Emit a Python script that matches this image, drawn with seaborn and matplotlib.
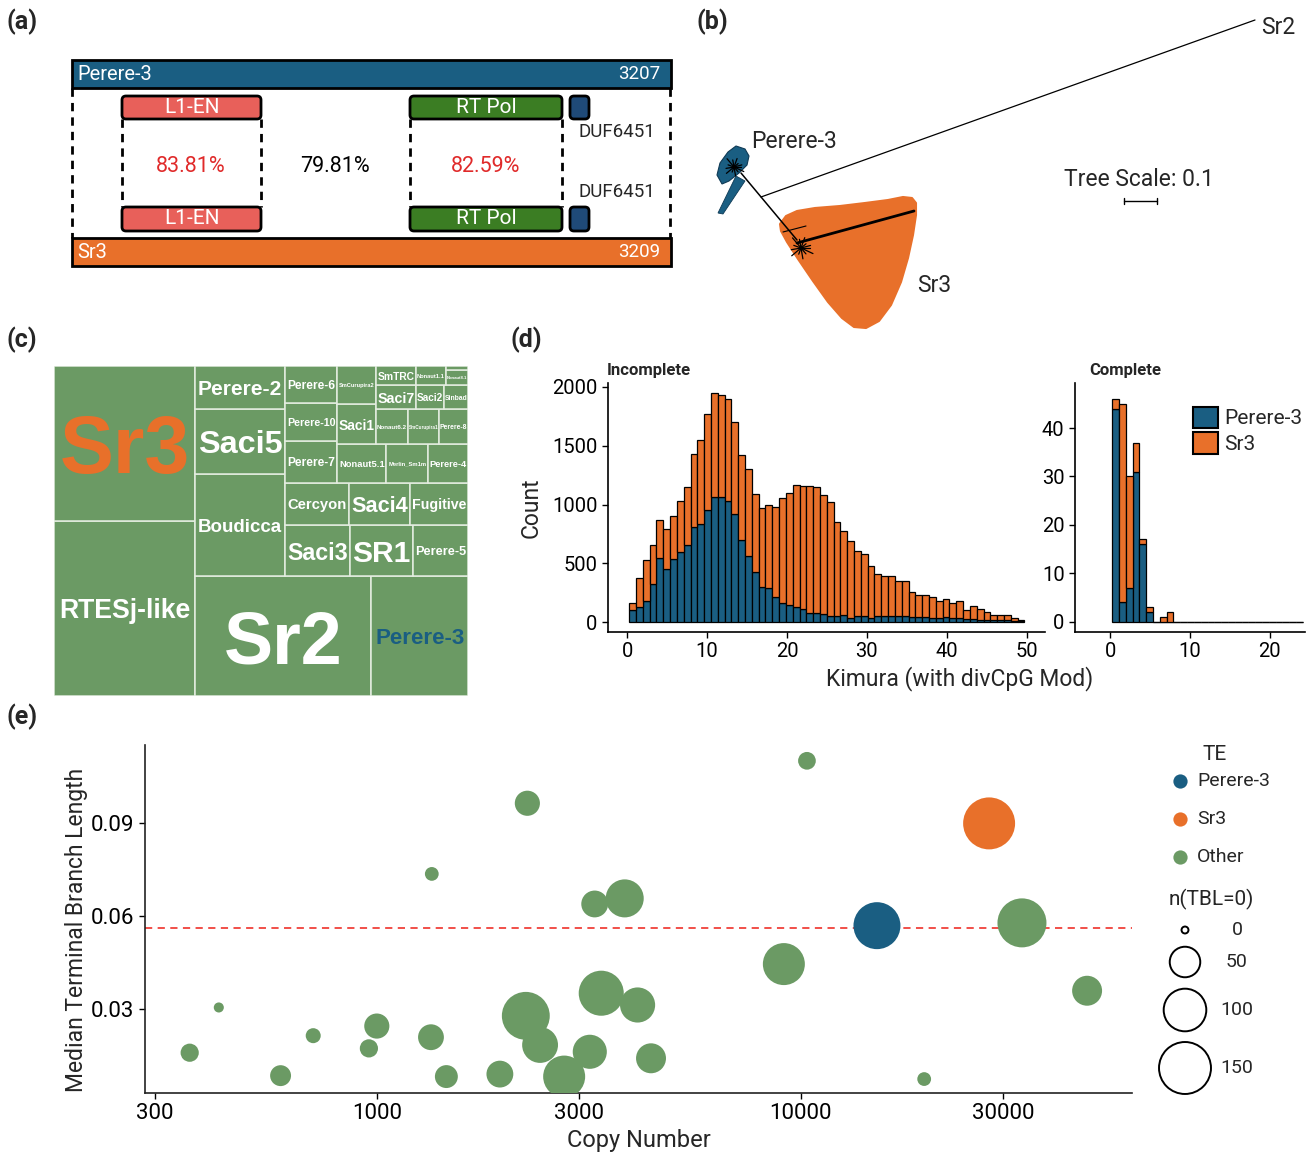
import numpy as np
import matplotlib.pyplot as plt
from matplotlib.patches import Rectangle, FancyBboxPatch, Polygon, Patch
import pandas as pd
import seaborn as sns

sns.set_style('ticks')
plt.rcParams['font.family'] = ['Roboto', 'DejaVu Sans']

BLUE = '#1a5e82'
ORANGE = '#e8702a'
GREEN = '#6b9a64'
PCT_RED = '#e02a2a'

# ---- (a) domain architecture ----
arch_names = ['Perere-3', 'Sr3']
arch_lengths = [3207, 3209]
domain_names = ['L1-EN', 'RT Pol', 'DUF6451']
domain_colors = ['#e8605a', '#3b7d23', '#1f4a78']
domain_identity = ['83.81%', '82.59%']
overall_identity = '79.81%'

# ---- (c) treemap (copy number per family) ----
tm_names = ['RTESj-like', 'Sr3', 'Sr2', 'Perere-3', 'Boudicca', 'Saci5', 'Perere-2',
            'Saci3', 'SR1', 'Perere-5', 'Cercyon', 'Saci4', 'Fugitive', 'Perere-7',
            'Perere-10', 'Perere-6', 'Nonaut5.1', 'Merlin_Sm1m', 'Perere-4', 'Saci1',
            'SmCurupira2', 'Nonaut6.2', 'SmCurupira1', 'Perere-8', 'Saci7', 'SmTRC',
            'Saci2', 'Sinbad', 'Nonaut1.1', 'Nonaut8.1', '']
tm_sizes = [222075, 196272, 190270, 104110, 83232, 52768, 35360, 29835, 28764, 25245,
            24257, 23114, 22225, 19500, 17628, 17472, 17052, 14500, 13920, 13685,
            13225, 10088, 9672, 9048, 8760, 6840, 6132, 5329, 5130, 3015, 804]

# ---- (d) Kimura divergence histograms ----
BIN0, BINW = 0.25, 0.853
inc_perere3 = [99, 128, 179, 327, 548, 455, 540, 594, 653, 811, 834, 953, 1066, 1061, 1032,
               916, 702, 560, 426, 298, 287, 213, 162, 142, 128, 114, 77, 77, 71, 48, 51, 57,
               37, 48, 48, 34, 51, 48, 51, 48, 48, 43, 43, 43, 37, 37, 43, 37, 37, 23, 28,
               20, 20, 14, 14, 14, 9, 9]
inc_sr3 = [63, 247, 346, 332, 318, 338, 366, 436, 493, 619, 715, 817, 880, 874, 869, 786,
           722, 742, 662, 668, 710, 767, 893, 955, 1037, 1042, 1079, 1068, 1014, 975, 801,
           716, 653, 554, 529, 443, 361, 341, 338, 299, 299, 213, 190, 190, 176, 142, 156,
           128, 139, 76, 106, 91, 65, 48, 43, 43, 22, 11]
comp_perere3 = [44, 4, 7, 31, 16, 2, 0, 0, 0] + [0] * 19
comp_sr3 = [2, 41, 23, 6, 1, 1, 0, 1, 2] + [0] * 19

# ---- (e) copy number vs median terminal branch length ----
te_copy = [362, 424, 593, 708, 958, 1000, 1348, 1342, 1459, 1951, 2265, 2246, 2427, 2766,
           3179, 3265, 3843, 3383, 4121, 4433, 10338, 27800, 9120, 15120, 33230, 47330, 19540]
te_tbl = [0.0159, 0.0305, 0.0085, 0.0214, 0.0173, 0.0245, 0.0736, 0.0209, 0.0082, 0.0090,
          0.0964, 0.0278, 0.0184, 0.0082, 0.0162, 0.0639, 0.0657, 0.0351, 0.0313, 0.0141,
          0.1101, 0.0899, 0.0445, 0.0569, 0.0578, 0.0359, 0.0074]
te_n0 = [16, 3, 22, 10, 16, 33, 8, 35, 27, 38, 33, 127, 70, 97, 63, 38, 79, 112, 67, 48,
         15, 162, 97, 122, 133, 48, 8]
te_class = ['Other'] * 21 + ['Sr3', 'Other', 'Perere-3', 'Other', 'Other', 'Other']
te_levels = ['Perere-3', 'Sr3', 'Other']
size_vals = [0, 50, 100, 150]
tbl_line = 0.0561

W, H = 1312, 1152
fig = plt.figure(figsize=(13.12, 11.52), dpi=100)


def px_axes(l, t, r, b):
    return fig.add_axes([l / W, 1 - b / H, (r - l) / W, (b - t) / H])


def area_for(n):
    # marker area (pt^2) for n(TBL=0)
    return 25 + n * 1375 / 150


ov = fig.add_axes([0, 0, 1, 1])
ov.set_xlim(0, W)
ov.set_ylim(H, 0)
ov.axis('off')

for lab, x, y in [('(a)', 7, 22), ('(b)', 697, 22), ('(c)', 7, 340), ('(d)', 511, 340), ('(e)', 7, 717)]:
    ov.text(x, y, lab, fontsize=18, fontweight='bold', va='center', ha='left')

# ---------------- (a) ----------------
bar_rows = [(60, 88), (238, 266)]
for (y0, y1), name, length, col in zip(bar_rows, arch_names, arch_lengths, [BLUE, ORANGE]):
    ov.add_patch(Rectangle((72, y0), 599, y1 - y0, fc=col, ec='black', lw=2))
    ov.text(77, (y0 + y1) / 2, name, color='white', fontsize=14.5, va='center', ha='left')
    ov.text(660, (y0 + y1) / 2, str(length), color='white', fontsize=13.5, va='center', ha='right')

dash = (0, (3, 2.2))
for x in [72, 670]:
    ov.plot([x, x], [88, 238], color='black', lw=2, ls=dash)

dom_x = [(122, 261), (410, 562), (570, 589)]
dom_rows = [(96, 119), (207, 231)]
for (y0, y1) in dom_rows:
    for (x0, x1), name, col in zip(dom_x, domain_names, domain_colors):
        ov.add_patch(FancyBboxPatch((x0, y0), x1 - x0, y1 - y0,
                                    boxstyle='round,pad=0,rounding_size=4',
                                    fc=col, ec='black', lw=2))
        if name != 'DUF6451':
            ov.text((x0 + x1) / 2, (y0 + y1) / 2, name, color='white', fontsize=15,
                    ha='center', va='center')
for (x0, x1) in dom_x[:2]:
    for x in [x0, x1]:
        ov.plot([x, x], [119, 207], color='black', lw=2, ls=dash)
ov.text(578, 132, 'DUF6451', fontsize=13.5, ha='left', va='center')
ov.text(578, 192, 'DUF6451', fontsize=13.5, ha='left', va='center')
ov.text(191, 166, domain_identity[0], color=PCT_RED, fontsize=15.5, ha='center', va='center')
ov.text(335, 166, overall_identity, color='black', fontsize=15.5, ha='center', va='center')
ov.text(486, 166, domain_identity[1], color=PCT_RED, fontsize=15.5, ha='center', va='center')

# ---------------- (b) ----------------
sr3_blob = [(780, 224), (786, 216), (797, 211), (815, 208), (840, 206), (865, 203), (888, 200),
            (903, 197), (912, 198), (916, 203), (916, 215), (913, 235), (908, 258), (901, 282),
            (891, 305), (879, 321), (866, 328), (854, 327), (842, 318), (828, 302), (813, 281),
            (798, 259), (787, 242), (781, 231)]
p3_blob = [(736, 146), (745, 149), (749, 156), (747, 165), (739, 173), (729, 181),
           (722, 184), (717, 175), (720, 163), (728, 152)]
p3_tail = [(736, 176), (745, 181), (723, 214), (718, 213)]
ov.plot([761, 1255], [197, 20], color='black', lw=0.9)
ov.add_patch(Polygon(sr3_blob, closed=True, fc=ORANGE, ec=ORANGE, lw=1.5, joinstyle='round'))
ov.add_patch(Polygon(p3_blob, closed=True, fc=BLUE, ec='#0f3a55', lw=0.8))
ov.add_patch(Polygon(p3_tail, closed=True, fc=BLUE, ec='#0f3a55', lw=0.6))
ov.plot([741, 797], [173, 240], color='black', lw=1.1)
ov.plot([797, 914], [243, 211], color='black', lw=2.0)
ov.plot([783, 806], [232, 226], color='black', lw=0.8)
angles = np.deg2rad([0, 25, 50, 80, 110, 140, 170, 200, 230, 260, 290, 320, 345])
lengths = [8, 12, 7, 10, 6, 11, 9, 7, 12, 8, 10, 6, 9]
for cx, cy, k in [(734, 167, 0.9), (801, 248, 1.1)]:
    for a, ln in zip(angles, lengths):
        ov.plot([cx, cx + k * ln * np.cos(a)], [cy, cy + k * ln * np.sin(a)], color='black', lw=0.9)
ov.text(1261, 28, 'Sr2', fontsize=16.5, ha='left', va='center')
ov.text(751, 141, 'Perere-3', fontsize=16.5, ha='left', va='center')
ov.text(917, 286, 'Sr3', fontsize=16.5, ha='left', va='center')
ov.text(1064, 179, 'Tree Scale: 0.1', fontsize=16.5, ha='left', va='center')
ov.plot([1124, 1157], [201, 201], color='black', lw=1)
ov.plot([1124, 1124], [198, 204], color='black', lw=1)
ov.plot([1157, 1157], [198, 204], color='black', lw=1)

# ---------------- (c) treemap ----------------


def worst(row, side):
    s = sum(row)
    return max(max(side ** 2 * r / s ** 2, s ** 2 / (side ** 2 * r)) for r in row)


def squarify(values, x=0.0, y=0.0, w=1.0, h=1.0):
    total = sum(values)
    vals = [v * w * h / total for v in values]
    rects = []
    while vals:
        side = min(w, h)
        row = [vals[0]]
        i = 1
        while i < len(vals) and worst(row + [vals[i]], side) <= worst(row, side):
            row.append(vals[i])
            i += 1
        s = sum(row)
        if w >= h:
            cw = s / h
            yy = y
            for v in row:
                rects.append((x, yy, cw, v / cw))
                yy += v / cw
            x += cw
            w -= cw
        else:
            rh = s / w
            xx = x
            for v in row:
                rects.append((xx, y, v / rh, rh))
                xx += v / rh
            y += rh
            h -= rh
        vals = vals[i:]
    return rects


ax_c = px_axes(54, 366, 468, 696)
ax_c.set_xlim(0, 1)
ax_c.set_ylim(0, 1)
ax_c.axis('off')
tm_w_px, tm_h_px = 414, 330
renderer = fig.canvas.get_renderer()
for (x, y, w, h), name in zip(squarify(tm_sizes), tm_names):
    ax_c.add_patch(Rectangle((x, y), w, h, fc=GREEN, ec='#e4ede1', lw=1.1))
    if not name:
        continue
    col = ORANGE if name == 'Sr3' else (BLUE if name == 'Perere-3' else 'white')
    t = ax_c.text(x + w / 2, y + h / 2, name, color=col, fontsize=10, fontweight='bold',
                  family=['Liberation Sans', 'DejaVu Sans'], ha='center', va='center_baseline')
    bb = t.get_window_extent(renderer)
    scale = min(0.93 * w * tm_w_px / bb.width, 0.62 * h * tm_h_px / bb.height)
    t.set_fontsize(10 * scale)

# ---------------- (d) histograms ----------------
pal = {'Perere-3': BLUE, 'Sr3': ORANGE}


def stacked_hist(ax, p3, sr3):
    n = len(p3)
    edges = [BIN0 + BINW * k for k in range(n + 1)]
    mids = [(edges[k] + edges[k + 1]) / 2 for k in range(n)]
    df = pd.DataFrame({'kimura': mids + mids,
                       'count': list(p3) + list(sr3),
                       'TE': ['Perere-3'] * n + ['Sr3'] * n})
    sns.histplot(data=df, x='kimura', weights='count', hue='TE', hue_order=['Sr3', 'Perere-3'],
                 multiple='stack', bins=edges, palette=pal, edgecolor='black', linewidth=0.9,
                 alpha=1, legend=False, ax=ax)


ax_i = px_axes(608, 383, 1045, 632)
ax_k = px_axes(1075, 383, 1305, 632)
stacked_hist(ax_i, inc_perere3, inc_sr3)
stacked_hist(ax_k, comp_perere3, comp_sr3)
ax_i.set_xlim(-2.4, 52.3)
ax_i.set_ylim(-85, 2034)
ax_i.set_xticks([0, 10, 20, 30, 40, 50])
ax_i.set_yticks([0, 500, 1000, 1500, 2000])
ax_k.set_xlim(-4.4, 24.4)
ax_k.set_ylim(-2.1, 49.3)
ax_k.set_xticks([0, 10, 20])
ax_k.set_yticks([0, 10, 20, 30, 40])
for ax in (ax_i, ax_k):
    sns.despine(ax=ax)
    ax.set_xlabel('')
    ax.set_ylabel('')
    ax.tick_params(labelsize=14.5, length=4, width=1, colors='black')
    for s in ('left', 'bottom'):
        ax.spines[s].set_linewidth(1.2)
        ax.spines[s].set_color('black')
ax_i.set_ylabel('Count', fontsize=16.5, labelpad=7)
ax_i.set_title('Incomplete', loc='left', fontsize=12, fontweight='bold', pad=6, x=-0.003)
ax_k.set_title('Complete', loc='left', fontsize=12, fontweight='bold', pad=6, x=0.06)
fig.text(960 / W, 1 - 679 / H, 'Kimura (with divCpG Mod)', fontsize=16.5, ha='center', va='center')
fig.legend(handles=[Patch(fc=BLUE, ec='black', lw=1.5), Patch(fc=ORANGE, ec='black', lw=1.5)],
           labels=['Perere-3', 'Sr3'], loc='upper left', bbox_to_anchor=(1178 / W, 1 - 392 / H),
           frameon=False, fontsize=15, handlelength=1.2, handleheight=1.2,
           labelspacing=0.2, handletextpad=0.3, borderpad=0.2)

# ---------------- (e) scatter ----------------
ax_e = px_axes(145, 745, 1132, 1093)
df_e = pd.DataFrame({'copy': te_copy, 'tbl': te_tbl, 'n0': te_n0, 'TE': te_class})
te_pal = {'Perere-3': BLUE, 'Sr3': ORANGE, 'Other': GREEN}
sns.scatterplot(data=df_e, x='copy', y='tbl', hue='TE', size='n0', sizes=(area_for(0), area_for(150)),
                size_norm=(0, 150), palette=te_pal, linewidth=0, alpha=1, legend=False,
                ax=ax_e, zorder=3)
ax_e.axhline(tbl_line, color='#f0413a', ls=(0, (4, 3)), lw=1.3, zorder=2)
ax_e.set_xscale('log')
ax_e.set_xlim(284, 60400)
ax_e.set_ylim(0.0029, 0.1152)
ax_e.set_xticks([300, 1000, 3000, 10000, 30000])
ax_e.set_xticklabels(['300', '1000', '3000', '10000', '30000'])
ax_e.minorticks_off()
ax_e.set_yticks([0.03, 0.06, 0.09])
ax_e.set_yticklabels(['0.03', '0.06', '0.09'])
sns.despine(ax=ax_e)
ax_e.tick_params(labelsize=16, length=4, width=1, colors='black')
for s in ('left', 'bottom'):
    ax_e.spines[s].set_linewidth(1.2)
    ax_e.spines[s].set_color('#222222')
ax_e.set_xlabel('Copy Number', fontsize=17, labelpad=3)
ax_e.set_ylabel('Median Terminal Branch Length', fontsize=16.5)
ax_e.yaxis.set_label_coords(-0.058, 0.47)

# legend of (e), drawn as keys in the overlay
ov.text(1215, 754, 'TE', fontsize=15, ha='center', va='center')
for yk, k in zip([781, 819, 857], te_levels):
    ov.scatter([1180], [yk], s=105, color=te_pal[k], linewidths=0)
    ov.text(1197, yk, k, fontsize=14, ha='left', va='center')
ov.text(1169, 899, 'n(TBL=0)', fontsize=15, ha='left', va='center')
for yk, v in zip([930, 962, 1010, 1068], size_vals):
    ov.scatter([1185], [yk], s=area_for(v), facecolor='none', edgecolor='black', linewidths=1.4)
    ov.text(1237, yk, str(v), fontsize=14, ha='center', va='center')

fig.savefig('out.png', dpi=100, facecolor='white')
